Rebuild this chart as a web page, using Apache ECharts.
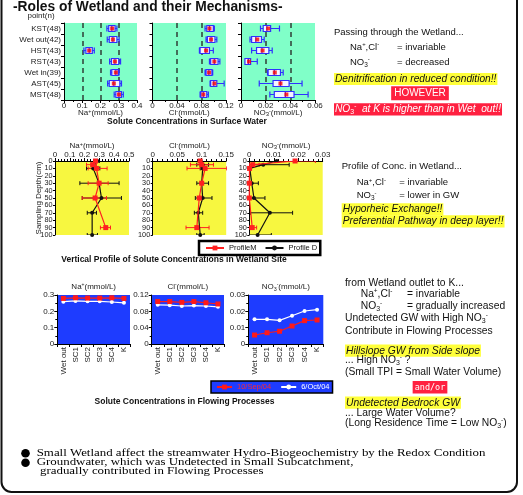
<!DOCTYPE html>
<html><head><meta charset="utf-8">
<script src="https://cdn.jsdelivr.net/npm/echarts@6.0.0/dist/echarts.min.js"></script>
<style>html,body{margin:0;padding:0;background:#fff}#c{width:523px;height:495px}</style>
</head><body><div id="c"></div>
<script>
// ---------- DATA ----------
const surfSites = ['KST(48)','Wet out(42)','HST(43)','RST(43)','Wet in(39)','AST(45)','MST(48)'];
// [min, Q1, median, Q3, max]
const naBox = [[0.235,0.245,0.262,0.28,0.29],[0.237,0.248,0.268,0.29,0.302],[0.109,0.12,0.138,0.155,0.166],[0.25,0.26,0.279,0.3,0.31],[0.255,0.262,0.284,0.297,0.302],[0.239,0.248,0.273,0.306,0.315],[0.275,0.284,0.301,0.315,0.325]];
const naMean = [0.264,0.268,0.138,0.279,0.284,0.273,0.301];
const clBox = [[0.0858,0.0886,0.093,0.0993,0.101],[0.0874,0.0896,0.0956,0.102,0.105],[0.0766,0.0777,0.087,0.093,0.0993],[0.093,0.095,0.101,0.107,0.110],[0.0858,0.0875,0.092,0.097,0.0983],[0.094,0.095,0.100,0.105,0.117],[0.0777,0.079,0.083,0.0886,0.0912]];
const clMean = [0.093,0.0956,0.0874,0.101,0.0923,0.101,0.083];
const no3Box = [[0.0158,0.018,0.021,0.024,0.0312],[0.0073,0.0086,0.012,0.0166,0.0188],[0.0086,0.0126,0.017,0.0226,0.0253],[0.0032,0.0032,0.006,0.0078,0.0132],[0.0215,0.022,0.027,0.032,0.0342],[0.0148,0.026,0.032,0.039,0.0495],[0.0234,0.027,0.036,0.043,0.0544]];
const no3Mean = [0.022,0.0132,0.0175,0.0065,0.0274,0.032,0.0368];

const depthM = [0,5,10,30,50,90];
const depthD = [0,5,10,30,50,70,100];
const depthTicks = [0,10,20,30,40,50,60,70,80,90,100];
const naM = [0.274,0.255,0.28,0.298,0.271,0.343];
const naMErr = [[0.262,0.288],[0.213,0.28],[0.224,0.352],[0.224,0.359],[0.184,0.348],[0.307,0.375]];
const naD = [0.287,0.258,0.258,0.298,0.314,0.251,0.251];
const naDErr = [[0.272,0.3],[0.245,0.27],[0.213,0.303],[0.168,0.433],[0.184,0.449],[0.218,0.28],[0.218,0.287]];
const clM = [0.0968,0.100,0.107,0.100,0.095,0.090];
const clMErr = [[0.094,0.100],[0.077,0.124],[0.070,0.151],[0.097,0.103],[0.092,0.098],[0.068,0.115]];
const clD = [0.098,0.102,0.102,0.100,0.102,0.093,0.097];
const clDErr = [[0.095,0.101],[0.090,0.114],[0.097,0.107],[0.090,0.114],[0.087,0.121],[0.085,0.102],[0.090,0.105]];
const no3M = [0.0187,0.0014,0.0001,0.0,0.0,0.0012];
const no3MErr = [[0.011,0.027],[0,0.004],[0,0.0005],[0,0.0005],[0,0.0005],[0,0.003]];
const no3D = [0.0112,0.0057,0.0002,0.001,0.0019,0.0084,0.0034];
const no3DErr = [[0.0105,0.012],[0,0.0163],[0,0.0005],[0,0.0037],[0,0.0064],[0.0005,0.0177],[0,0.009]];

const flowSites = ['Wet out','SC1','SC2','SC3','SC4','K'];
const naSep = [0.279,0.283,0.281,0.281,0.283,0.279];
const naOct = [0.259,0.264,0.261,0.261,0.257,0.252];
const clSep = [0.104,0.104,0.102,0.104,0.101,0.098];
const clOct = [0.096,0.095,0.093,0.094,0.093,0.091];
const no3Sep = [0.0055,0.0069,0.0078,0.011,0.0143,0.0147];
const no3Oct = [0.0151,0.0151,0.0145,0.0173,0.0202,0.021];

// ---------- STYLE ----------
const F = '"Liberation Sans", Arial, sans-serif';
const SERIF = '"Liberation Serif", "Times New Roman", serif';
const GREEN = '#80ffc8', YELLOW = '#f7f740', BLUE = '#1e3cff', RED = '#ff2020', BOXBLUE = '#3030ff';
const richSS = { sup:{fontSize:5.5, verticalAlign:'top', fontFamily:F, color:'#222'}, sub:{fontSize:6, verticalAlign:'bottom', fontFamily:F, color:'#222'} };
const naName = 'Na{sup|+}(mmol/L)', clName = 'Cl{sup|-}(mmol/L)', no3Name = 'NO{sub|3}{sup|-}(mmol/L)';
const lab = {fontFamily:F, fontSize:8, color:'#222'};
const axLine = {show:true, lineStyle:{color:'#000', width:1}};

const chart = echarts.init(document.getElementById('c'), null, {renderer:'canvas'});

const grids = [
  {left:64, top:23, width:73, height:77, backgroundColor:GREEN},
  {left:152.5, top:23, width:73.5, height:77, backgroundColor:GREEN},
  {left:241, top:23, width:74, height:77, backgroundColor:GREEN},
  {left:55, top:161, width:74, height:74, backgroundColor:YELLOW},
  {left:152.7, top:161, width:73.5, height:74, backgroundColor:YELLOW},
  {left:249.3, top:161, width:73.4, height:74, backgroundColor:YELLOW},
  {left:57.3, top:295, width:72.7, height:49, backgroundColor:BLUE},
  {left:151.7, top:295, width:72.3, height:49, backgroundColor:BLUE},
  {left:248.3, top:295, width:75, height:49, backgroundColor:BLUE}
].map(g => Object.assign({show:true, borderWidth:0, containLabel:false}, g));

function surfX(i, max, interval, name){
  return {type:'value', gridIndex:i, min:0, max:max, interval:interval,
    axisLine:axLine, axisTick:{show:true, length:3, lineStyle:{color:'#000'}},
    minorTick:{show:true, splitNumber:2, length:2, lineStyle:{color:'#000'}},
    axisLabel:Object.assign({margin:2, showMinLabel:true, showMaxLabel:true}, lab),
    splitLine:{show:true, showMinLine:false, showMaxLine:false, lineStyle:{color:'#2f3f36', width:1.5, type:[5,4]}},
    name:name, nameLocation:'middle', nameGap:8, nameMoveOverlap:false,
    nameTextStyle:Object.assign({rich:richSS, lineHeight:9}, lab)};
}
function surfY(i, showLabel){
  return {type:'category', gridIndex:i, data:surfSites, inverse:true,
    axisLine:axLine, axisTick:{show:true, length:3, lineStyle:{color:'#000'}},
    axisLabel:Object.assign({show:showLabel, margin:3, interval:0}, lab), splitLine:{show:false}};
}
function profX(i, max, interval, name){
  return {type:'value', gridIndex:i, position:'top', min:0, max:max, interval:interval,
    axisLine:axLine, axisTick:{show:true, length:3, lineStyle:{color:'#000'}},
    minorTick:{show:true, splitNumber:5, length:2, lineStyle:{color:'#000'}},
    axisLabel:Object.assign({margin:2, showMinLabel:true, showMaxLabel:true, hideOverlap:false}, lab), splitLine:{show:false},
    name:name, nameLocation:'middle', nameGap:10.5, nameMoveOverlap:false,
    nameTextStyle:Object.assign({rich:richSS, lineHeight:9}, lab)};
}
function profY(i, withName){
  const o = {type:'value', gridIndex:i, min:0, max:100, interval:10, inverse:true,
    axisLine:axLine, axisTick:{show:true, length:2, lineStyle:{color:'#000'}},
    axisLabel:{show:false}, splitLine:{show:false}};
  if (withName) Object.assign(o, {name:'Sampling Depth(cm)', nameLocation:'middle', nameRotate:90, nameGap:12, nameMoveOverlap:false, nameTextStyle:lab});
  return o;
}
function flowX(i){
  return {type:'category', gridIndex:i, data:flowSites, boundaryGap:true,
    axisLine:axLine, axisTick:{show:true, length:3, lineStyle:{color:'#000'}},
    axisLabel:Object.assign({rotate:90, margin:3, interval:0}, lab), splitLine:{show:false}};
}
function flowY(i, max, interval){
  return {type:'value', gridIndex:i, min:0, max:max, interval:interval,
    axisLine:axLine, axisTick:{show:true, length:3, lineStyle:{color:'#000'}},
    minorTick:{show:true, splitNumber:2, length:2, lineStyle:{color:'#000'}},
    axisLabel:Object.assign({margin:3, showMinLabel:true, showMaxLabel:true}, lab), splitLine:{show:false}};
}

const xAxes = [surfX(0,0.4,0.1,naName), surfX(1,0.12,0.04,clName), surfX(2,0.06,0.02,no3Name),
  profX(3,0.5,0.1,naName), profX(4,0.15,0.05,clName), profX(5,0.03,0.01,no3Name),
  flowX(6), flowX(7), flowX(8)];
const yAxes = [surfY(0,true), surfY(1,false), surfY(2,false),
  profY(3,true), profY(4,false), profY(5,false),
  flowY(6,0.3,0.1), flowY(7,0.12,0.04), flowY(8,0.03,0.01)];

const series = [];
[[naBox,naMean],[clBox,clMean],[no3Box,no3Mean]].forEach((p, i) => {
  series.push({type:'boxplot', name:'box'+i, xAxisIndex:i, yAxisIndex:i, data:p[0], boxWidth:[6,6],
    itemStyle:{color:'#f4f4ff', borderColor:BOXBLUE, borderWidth:1.2}, emphasis:{disabled:true}, silent:true});
  series.push({type:'scatter', name:'mean'+i, xAxisIndex:i, yAxisIndex:i, data:p[1].map((v,k)=>[v,k]),
    symbol:'rect', symbolSize:4, itemStyle:{color:'#ff0000'}, z:5, silent:true});
});

function errRender(color){
  return function(params, api){
    const lo = api.coord([api.value(0), api.value(2)]);
    const hi = api.coord([api.value(1), api.value(2)]);
    const h = 2;
    const st = {stroke:color, lineWidth:1};
    return {type:'group', children:[
      {type:'line', shape:{x1:lo[0],y1:lo[1],x2:hi[0],y2:hi[1]}, style:st},
      {type:'line', shape:{x1:lo[0],y1:lo[1]-h,x2:lo[0],y2:lo[1]+h}, style:st},
      {type:'line', shape:{x1:hi[0],y1:hi[1]-h,x2:hi[0],y2:hi[1]+h}, style:st}
    ]};
  };
}
// depth tick labels drawn through the y axis scale (custom series, so none get auto-hidden)
function depthLabelRender(params, api){
  const p = api.coord([0, api.value(0)]);
  return {type:'text', x:p[0]-2.5, y:p[1], style:{text:String(api.value(0)), fontFamily:F, fontSize:7.3,
    fill:'#222', align:'right', verticalAlign:'middle'}};
}
const profSets = [[naM,naMErr,naD,naDErr],[clM,clMErr,clD,clDErr],[no3M,no3MErr,no3D,no3DErr]];
profSets.forEach((s, k) => {
  const ax = 3 + k;
  series.push({type:'custom', name:'depthLab'+k, xAxisIndex:ax, yAxisIndex:ax, clip:false, silent:true,
    renderItem:depthLabelRender, encode:{y:0}, data:depthTicks.map(d=>[d]), z:1});
  series.push({type:'custom', name:'errD'+k, xAxisIndex:ax, yAxisIndex:ax, clip:true, silent:true,
    renderItem:errRender('#111'), encode:{x:[0,1], y:2}, data:s[3].map((e,j)=>[e[0],e[1],depthD[j]]), z:2});
  series.push({type:'custom', name:'errM'+k, xAxisIndex:ax, yAxisIndex:ax, clip:true, silent:true,
    renderItem:errRender(RED), encode:{x:[0,1], y:2}, data:s[1].map((e,j)=>[e[0],e[1],depthM[j]]), z:3});
  series.push({type:'line', name:'Profile D', xAxisIndex:ax, yAxisIndex:ax, data:s[2].map((v,j)=>[v,depthD[j]]),
    symbol:'circle', symbolSize:4, lineStyle:{color:'#111', width:1.2}, itemStyle:{color:'#111'}, z:4, silent:true});
  series.push({type:'line', name:'ProfileM', xAxisIndex:ax, yAxisIndex:ax, data:s[0].map((v,j)=>[v,depthM[j]]),
    symbol:'rect', symbolSize:5, lineStyle:{color:RED, width:1.2}, itemStyle:{color:RED}, z:5, silent:true});
});

[[naSep,naOct],[clSep,clOct],[no3Sep,no3Oct]].forEach((p, k) => {
  const ax = 6 + k;
  series.push({type:'line', name:'6/Oct/04', xAxisIndex:ax, yAxisIndex:ax, data:p[1],
    symbol:'circle', symbolSize:4, lineStyle:{color:'#fff', width:1.2}, itemStyle:{color:'#fff'}, z:4, silent:true});
  series.push({type:'line', name:'10/Sep/04', xAxisIndex:ax, yAxisIndex:ax, data:p[0],
    symbol:'rect', symbolSize:5, lineStyle:{color:'#ff1a1a', width:1.2}, itemStyle:{color:'#ff1a1a'}, z:5, silent:true});
});

// ---------- TEXT HELPERS ----------
const richT = (fs, col) => ({
  sup:{fontSize:fs*0.62, verticalAlign:'top', fontFamily:F, fill:col, color:col},
  sub:{fontSize:fs*0.68, verticalAlign:'bottom', fontFamily:F, fill:col, color:col}
});
function T(x, y, text, o){
  o = o || {};
  const fs = o.fs || 9.5, col = o.color || '#111', al = o.align || 'left';
  const style = {text:text, x:0, y:0, fontSize:fs, fontFamily:o.family || F,
    fontStyle:o.italic ? 'italic' : 'normal', fontWeight:o.weight || 'normal',
    fill:col, textAlign:al, align:al, textVerticalAlign:'middle', verticalAlign:'middle',
    lineHeight:o.lh || fs + 2, rich:richT(fs, col)};
  if (o.bg) { style.backgroundColor = o.bg; style.padding = o.pad || [0,1]; }
  const el = {type:'text', x:x, y:y, z:50, style:style, silent:true};
  if (o.sy) el.scaleY = o.sy;
  if (o.sx) el.scaleX = o.sx;
  return el;
}
const hl = {italic:true, bg:'#ffff3a', fs:10.2};
const B3 = 10.3;
const graphics = [
  {type:'rect', shape:{x:1.5, y:-20, width:515.5, height:512, r:10}, style:{fill:'none', stroke:'#111', lineWidth:2}, z:0, silent:true},
  T(13, 7, '-Roles of Wetland and their Mechanisms-', {fs:13.8, weight:900, color:'#111'}),
  T(41, 16, 'point(n)', {fs:8, align:'center', color:'#222'}),
  T(187, 122, 'Solute Concentrations in Surface Water', {fs:8.5, weight:'bold', align:'center'}),
  T(174, 260, 'Vertical Profile of Solute Concentrations in Wetland Site', {fs:8.5, weight:'bold', align:'center'}),
  T(184.5, 401.7, 'Solute Concentrations in Flowing Processes', {fs:8.5, weight:'bold', align:'center'}),
  T(93.7, 286.7, 'Na{sup|+}(mmol/L)', {fs:8, align:'center', color:'#222'}),
  T(187.8, 286.7, 'Cl{sup|-}(mmol/L)', {fs:8, align:'center', color:'#222'}),
  T(285.8, 286.7, 'NO{sub|3}{sup|-}(mmol/L)', {fs:8, align:'center', color:'#222'}),
  // block 1
  T(334, 32.7, 'Passing through the Wetland...'),
  T(350, 47.3, 'Na{sup|+},Cl{sup|-}'), T(397, 47.3, '= invariable'),
  T(350, 62.3, 'NO{sub|3}{sup|-}'), T(397, 62.3, '= decreased'),
  T(334, 79, 'Denitrification in reduced condition!!', hl),
  T(420, 93.3, 'HOWEVER', {align:'center', color:'#fff', bg:'#ff2040', pad:[1,3], fs:10}),
  T(334, 109.3, 'NO{sub|3}{sup|-}  at K is higher than in Wet  out!!', {italic:true, color:'#fff', bg:'#ff2040', fs:10.2}),
  // block 2
  T(341.7, 166.7, 'Profile of Conc. in Wetland...'),
  T(356.7, 182.7, 'Na{sup|+},Cl{sup|-}'), T(399.3, 182.7, '= invariable'),
  T(356.7, 195.7, 'NO{sub|3}{sup|-}'), T(399.3, 195.7, '= lower in GW'),
  T(341.7, 209.3, 'Hyporheic Exchange!!', hl),
  T(341.7, 221.3, 'Preferential Pathway in deep layer!!', hl),
  // block 3
  T(345, 282.7, 'from Wetland outlet to K...', {fs:B3}),
  T(360.7, 294, 'Na{sup|+},Cl{sup|-}', {fs:B3}), T(407, 294, '= invariable', {fs:B3}),
  T(360.7, 306, 'NO{sub|3}{sup|-}', {fs:B3}), T(407, 306, '= gradually increased', {fs:B3}),
  T(345, 318.3, 'Undetected GW with High NO{sub|3}{sup|-}', {fs:B3}),
  T(345, 331, 'Contribute in Flowing Processes', {fs:B3}),
  T(345, 350.7, 'Hillslope GW from Side slope', {fs:B3, italic:true, bg:'#ffff3a'}),
  T(345, 360, '... High NO{sub|3}{sup|-} ?', {fs:B3}),
  T(345, 371.7, '(Small TPI = Small Water Volume)', {fs:B3}),
  T(430, 387.3, 'and/or', {align:'center', color:'#fff', bg:'#ff2040', family:'"DejaVu Sans Mono", monospace', fs:8.5, pad:[1,2]}),
  T(345, 402.7, 'Undetected Bedrock GW', {fs:B3, italic:true, bg:'#ffff3a'}),
  T(345, 413.3, '... Large Water Volume?', {fs:B3}),
  T(345, 423.3, '(Long Residence Time = Low NO{sub|3}{sup|-})', {fs:B3}),
  // bottom
  {type:'circle', shape:{cx:25.5, cy:453.3, r:4.3}, style:{fill:'#000'}, z:50, silent:true},
  {type:'circle', shape:{cx:25.5, cy:462.7, r:4.3}, style:{fill:'#000'}, z:50, silent:true},
  T(36.7, 453.3, 'Small Wetland affect the streamwater Hydro-Biogeochemistry by the Redox Condition', {fs:12.9, family:SERIF, color:'#000', lh:12, sy:0.82}),
  T(36.7, 462.7, 'Groundwater, which was Undetected in Small Subcatchment,', {fs:12.9, family:SERIF, color:'#000', lh:12, sy:0.82}),
  T(40, 471.7, 'gradually contributed in Flowing Processes', {fs:12.9, family:SERIF, color:'#000', lh:12, sy:0.82})
];

chart.setOption({
  animation:false,
  backgroundColor:'#fff',
  grid:grids, xAxis:xAxes, yAxis:yAxes, series:series,
  legend:[
    {data:['ProfileM','Profile D'], left:199, top:241, orient:'horizontal', backgroundColor:'#fff',
     borderColor:'#000', borderWidth:2.5, padding:[3,3,3,6], itemGap:8, itemWidth:18, itemHeight:6,
     textStyle:{fontFamily:F, fontSize:7.5, color:'#111'}, selectedMode:false},
    {data:[{name:'10/Sep/04', textStyle:{color:'#ff2a2a'}}, {name:'6/Oct/04', textStyle:{color:'#fff'}}],
     left:211, top:381, orient:'horizontal', backgroundColor:BLUE, borderColor:'#000', borderWidth:1.5,
     padding:[2,3,2,5], itemGap:9, itemWidth:15, itemHeight:6,
     textStyle:{fontFamily:F, fontSize:7.5}, selectedMode:false}
  ],
  graphic:{elements:graphics}
});
</script></body></html>
